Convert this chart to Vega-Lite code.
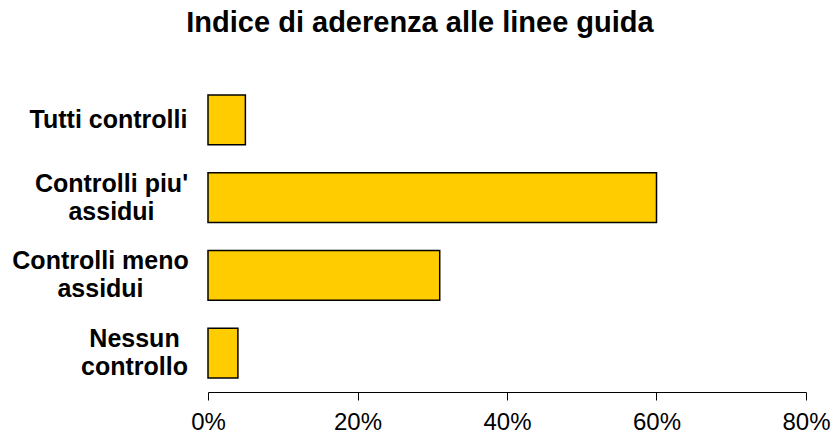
{
  "$schema": "https://vega.github.io/schema/vega-lite/v6.json",
  "autosize": "none",
  "width": 598,
  "height": 311,
  "padding": {"left": 208, "top": 81, "right": 27, "bottom": 48},
  "background": "white",
  "title": {
    "text": "Indice di aderenza alle linee guida",
    "font": "Liberation Sans",
    "fontSize": 29,
    "fontWeight": "bold",
    "color": "black",
    "anchor": "middle",
    "dx": -87,
    "offset": 43
  },
  "data": {
    "values": [
      {"categoria": "Tutti controlli", "valore": 0.05},
      {"categoria": "Controlli piu'|assidui", "valore": 0.60},
      {"categoria": "Controlli meno|assidui", "valore": 0.31},
      {"categoria": "Nessun|controllo", "valore": 0.04}
    ]
  },
  "mark": {"type": "bar", "fill": "#FFCC00", "stroke": "black", "strokeWidth": 1.5},
  "encoding": {
    "y": {
      "field": "categoria",
      "type": "nominal",
      "sort": null,
      "scale": {"paddingInner": 0.36, "paddingOuter": 0.18},
      "axis": {
        "title": null,
        "domain": false,
        "ticks": false,
        "labelExpr": "split(datum.label, '|')",
        "labelFont": "Liberation Sans",
        "labelFontSize": 25,
        "labelFontWeight": "bold",
        "labelColor": "black",
        "labelPadding": {
          "condition": [
            {"test": "datum.value == 'Tutti controlli'", "value": 100},
            {"test": "datum.value == \"Controlli piu'|assidui\"", "value": 97},
            {"test": "datum.value == 'Controlli meno|assidui'", "value": 108}
          ],
          "value": 74
        },
        "labelOffset": {
          "condition": {"test": "datum.value == 'Tutti controlli'", "value": 0},
          "value": -14
        },
        "labelLineHeight": 28,
        "labelAlign": "center",
        "labelLimit": 300
      }
    },
    "x": {
      "field": "valore",
      "type": "quantitative",
      "scale": {"domain": [0, 0.8]},
      "axis": {
        "title": null,
        "values": [0, 0.2, 0.4, 0.6, 0.8],
        "format": ".0%",
        "grid": false,
        "domainColor": "black",
        "tickColor": "black",
        "tickSize": 8,
        "labelFont": "Liberation Sans",
        "labelFontSize": 24,
        "labelColor": "black",
        "labelPadding": 10,
        "labelFlush": false
      }
    }
  },
  "config": {"view": {"stroke": null}}
}
